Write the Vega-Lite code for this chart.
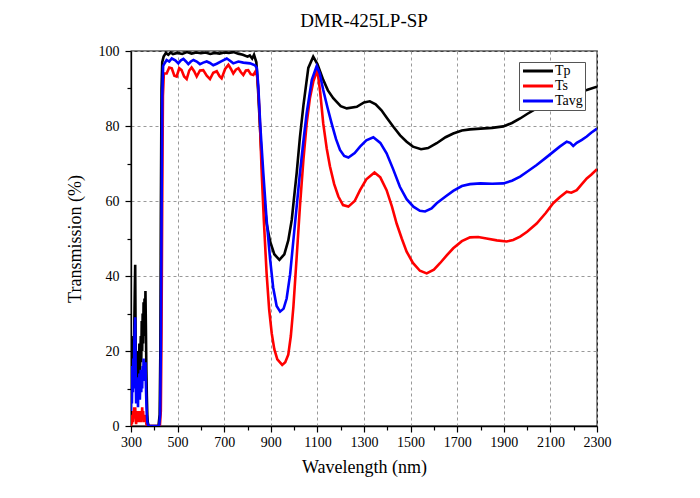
{
  "$schema": "https://vega.github.io/schema/vega-lite/v6.json",
  "width": 466,
  "height": 375,
  "autosize": {"type": "none"},
  "padding": {"left": 131, "top": 51, "right": 103, "bottom": 72},
  "title": {
    "text": "DMR-425LP-SP",
    "font": "Liberation Serif",
    "fontSize": 19,
    "fontWeight": "normal",
    "color": "black",
    "offset": 13
  },
  "data": {
    "values": [
      {"w": 300, "s": "Tp", "T": 8}, {"w": 302, "s": "Tp", "T": 24}, {"w": 304, "s": "Tp", "T": 12},
      {"w": 306, "s": "Tp", "T": 20}, {"w": 308, "s": "Tp", "T": 14}, {"w": 310, "s": "Tp", "T": 22},
      {"w": 312, "s": "Tp", "T": 16}, {"w": 314, "s": "Tp", "T": 26}, {"w": 316, "s": "Tp", "T": 35},
      {"w": 318, "s": "Tp", "T": 43}, {"w": 320, "s": "Tp", "T": 22}, {"w": 322, "s": "Tp", "T": 12},
      {"w": 324, "s": "Tp", "T": 20}, {"w": 326, "s": "Tp", "T": 14}, {"w": 328, "s": "Tp", "T": 18},
      {"w": 330, "s": "Tp", "T": 10}, {"w": 332, "s": "Tp", "T": 20}, {"w": 334, "s": "Tp", "T": 15},
      {"w": 336, "s": "Tp", "T": 22}, {"w": 338, "s": "Tp", "T": 13}, {"w": 340, "s": "Tp", "T": 19},
      {"w": 342, "s": "Tp", "T": 24}, {"w": 344, "s": "Tp", "T": 17}, {"w": 346, "s": "Tp", "T": 28},
      {"w": 348, "s": "Tp", "T": 20}, {"w": 350, "s": "Tp", "T": 30}, {"w": 352, "s": "Tp", "T": 22},
      {"w": 354, "s": "Tp", "T": 33}, {"w": 356, "s": "Tp", "T": 25}, {"w": 358, "s": "Tp", "T": 34},
      {"w": 360, "s": "Tp", "T": 24}, {"w": 362, "s": "Tp", "T": 36}, {"w": 364, "s": "Tp", "T": 26},
      {"w": 366, "s": "Tp", "T": 15}, {"w": 368, "s": "Tp", "T": 8}, {"w": 370, "s": "Tp", "T": 3},
      {"w": 372, "s": "Tp", "T": 1}, {"w": 376, "s": "Tp", "T": 0},
      {"w": 400, "s": "Tp", "T": 0}, {"w": 418, "s": "Tp", "T": 0}, {"w": 423, "s": "Tp", "T": 3},
      {"w": 426, "s": "Tp", "T": 20}, {"w": 428, "s": "Tp", "T": 55}, {"w": 431, "s": "Tp", "T": 90},
      {"w": 434, "s": "Tp", "T": 97}, {"w": 440, "s": "Tp", "T": 98.5}, {"w": 450, "s": "Tp", "T": 99.5},
      {"w": 460, "s": "Tp", "T": 99}, {"w": 470, "s": "Tp", "T": 99.6}, {"w": 480, "s": "Tp", "T": 99.2},
      {"w": 500, "s": "Tp", "T": 99.5}, {"w": 520, "s": "Tp", "T": 99.2}, {"w": 540, "s": "Tp", "T": 99.7},
      {"w": 560, "s": "Tp", "T": 99.3}, {"w": 580, "s": "Tp", "T": 99.6}, {"w": 600, "s": "Tp", "T": 99.4},
      {"w": 620, "s": "Tp", "T": 99.6}, {"w": 640, "s": "Tp", "T": 99.2}, {"w": 660, "s": "Tp", "T": 99.5},
      {"w": 680, "s": "Tp", "T": 99.3}, {"w": 700, "s": "Tp", "T": 99.6}, {"w": 720, "s": "Tp", "T": 99.5},
      {"w": 740, "s": "Tp", "T": 99.7}, {"w": 760, "s": "Tp", "T": 99.3}, {"w": 780, "s": "Tp", "T": 99},
      {"w": 800, "s": "Tp", "T": 98.5}, {"w": 810, "s": "Tp", "T": 98.8}, {"w": 820, "s": "Tp", "T": 98},
      {"w": 828, "s": "Tp", "T": 99}, {"w": 838, "s": "Tp", "T": 97}, {"w": 845, "s": "Tp", "T": 90},
      {"w": 855, "s": "Tp", "T": 78}, {"w": 868, "s": "Tp", "T": 63}, {"w": 882, "s": "Tp", "T": 54},
      {"w": 897, "s": "Tp", "T": 49.2}, {"w": 915, "s": "Tp", "T": 45.8}, {"w": 937, "s": "Tp", "T": 44.3},
      {"w": 958, "s": "Tp", "T": 45.8}, {"w": 975, "s": "Tp", "T": 49.5}, {"w": 990, "s": "Tp", "T": 55},
      {"w": 1000, "s": "Tp", "T": 61}, {"w": 1011, "s": "Tp", "T": 67.4}, {"w": 1025, "s": "Tp", "T": 77},
      {"w": 1040, "s": "Tp", "T": 85.5}, {"w": 1061, "s": "Tp", "T": 95.5}, {"w": 1082, "s": "Tp", "T": 98.5},
      {"w": 1100, "s": "Tp", "T": 96.5},
      {"w": 1125, "s": "Tp", "T": 92.3}, {"w": 1145, "s": "Tp", "T": 89.5}, {"w": 1168, "s": "Tp", "T": 87.4},
      {"w": 1200, "s": "Tp", "T": 85.3}, {"w": 1226, "s": "Tp", "T": 84.7}, {"w": 1269, "s": "Tp", "T": 85.1},
      {"w": 1300, "s": "Tp", "T": 86.3}, {"w": 1325, "s": "Tp", "T": 86.6}, {"w": 1350, "s": "Tp", "T": 85.8},
      {"w": 1375, "s": "Tp", "T": 84.2}, {"w": 1400, "s": "Tp", "T": 82}, {"w": 1426, "s": "Tp", "T": 79.8},
      {"w": 1455, "s": "Tp", "T": 77.5}, {"w": 1483, "s": "Tp", "T": 75.8}, {"w": 1510, "s": "Tp", "T": 74.5},
      {"w": 1545, "s": "Tp", "T": 73.8}, {"w": 1575, "s": "Tp", "T": 74.1}, {"w": 1612, "s": "Tp", "T": 75.4},
      {"w": 1650, "s": "Tp", "T": 77}, {"w": 1683, "s": "Tp", "T": 78}, {"w": 1720, "s": "Tp", "T": 78.8},
      {"w": 1755, "s": "Tp", "T": 79.1}, {"w": 1800, "s": "Tp", "T": 79.3}, {"w": 1850, "s": "Tp", "T": 79.5},
      {"w": 1898, "s": "Tp", "T": 79.9}, {"w": 1935, "s": "Tp", "T": 80.8}, {"w": 1970, "s": "Tp", "T": 82},
      {"w": 2000, "s": "Tp", "T": 83.2}, {"w": 2041, "s": "Tp", "T": 84.7}, {"w": 2080, "s": "Tp", "T": 86},
      {"w": 2112, "s": "Tp", "T": 86.9}, {"w": 2150, "s": "Tp", "T": 87.6}, {"w": 2184, "s": "Tp", "T": 88.3},
      {"w": 2220, "s": "Tp", "T": 89}, {"w": 2256, "s": "Tp", "T": 89.6}, {"w": 2300, "s": "Tp", "T": 90.5},

      {"w": 300, "s": "Ts", "T": 0}, {"w": 302, "s": "Ts", "T": 2}, {"w": 304, "s": "Ts", "T": 0.5},
      {"w": 306, "s": "Ts", "T": 3}, {"w": 308, "s": "Ts", "T": 1}, {"w": 310, "s": "Ts", "T": 4},
      {"w": 312, "s": "Ts", "T": 2}, {"w": 314, "s": "Ts", "T": 5}, {"w": 316, "s": "Ts", "T": 3},
      {"w": 318, "s": "Ts", "T": 5}, {"w": 320, "s": "Ts", "T": 2}, {"w": 322, "s": "Ts", "T": 0.5},
      {"w": 324, "s": "Ts", "T": 3}, {"w": 326, "s": "Ts", "T": 1}, {"w": 328, "s": "Ts", "T": 4},
      {"w": 330, "s": "Ts", "T": 1}, {"w": 332, "s": "Ts", "T": 3}, {"w": 334, "s": "Ts", "T": 1},
      {"w": 336, "s": "Ts", "T": 4}, {"w": 338, "s": "Ts", "T": 2}, {"w": 340, "s": "Ts", "T": 3},
      {"w": 342, "s": "Ts", "T": 1}, {"w": 344, "s": "Ts", "T": 4}, {"w": 346, "s": "Ts", "T": 2},
      {"w": 348, "s": "Ts", "T": 5}, {"w": 350, "s": "Ts", "T": 2}, {"w": 352, "s": "Ts", "T": 4},
      {"w": 354, "s": "Ts", "T": 1}, {"w": 356, "s": "Ts", "T": 3}, {"w": 358, "s": "Ts", "T": 1},
      {"w": 360, "s": "Ts", "T": 3}, {"w": 362, "s": "Ts", "T": 1}, {"w": 364, "s": "Ts", "T": 2},
      {"w": 366, "s": "Ts", "T": 0.5}, {"w": 370, "s": "Ts", "T": 0},
      {"w": 400, "s": "Ts", "T": 0}, {"w": 424, "s": "Ts", "T": 0},
      {"w": 428, "s": "Ts", "T": 4}, {"w": 431, "s": "Ts", "T": 25}, {"w": 434, "s": "Ts", "T": 60},
      {"w": 437, "s": "Ts", "T": 88}, {"w": 441, "s": "Ts", "T": 94}, {"w": 453, "s": "Ts", "T": 94},
      {"w": 464, "s": "Ts", "T": 95.6}, {"w": 475, "s": "Ts", "T": 95.4}, {"w": 486, "s": "Ts", "T": 93.4},
      {"w": 496, "s": "Ts", "T": 93.2}, {"w": 507, "s": "Ts", "T": 95.4}, {"w": 517, "s": "Ts", "T": 94.9},
      {"w": 528, "s": "Ts", "T": 93.2}, {"w": 539, "s": "Ts", "T": 92.5}, {"w": 550, "s": "Ts", "T": 94.8},
      {"w": 560, "s": "Ts", "T": 95.6}, {"w": 571, "s": "Ts", "T": 94.6}, {"w": 582, "s": "Ts", "T": 93.2},
      {"w": 596, "s": "Ts", "T": 94.8}, {"w": 610, "s": "Ts", "T": 94.9}, {"w": 625, "s": "Ts", "T": 93.4},
      {"w": 639, "s": "Ts", "T": 92.5}, {"w": 653, "s": "Ts", "T": 94.2}, {"w": 668, "s": "Ts", "T": 94.6},
      {"w": 680, "s": "Ts", "T": 93.3}, {"w": 689, "s": "Ts", "T": 92.7}, {"w": 704, "s": "Ts", "T": 95.2},
      {"w": 718, "s": "Ts", "T": 96.3}, {"w": 729, "s": "Ts", "T": 95.2}, {"w": 739, "s": "Ts", "T": 94},
      {"w": 750, "s": "Ts", "T": 95}, {"w": 761, "s": "Ts", "T": 95.4}, {"w": 771, "s": "Ts", "T": 94.4},
      {"w": 782, "s": "Ts", "T": 93.6}, {"w": 793, "s": "Ts", "T": 94.8}, {"w": 803, "s": "Ts", "T": 94.9},
      {"w": 814, "s": "Ts", "T": 93.8}, {"w": 825, "s": "Ts", "T": 93.6}, {"w": 834, "s": "Ts", "T": 94.5},
      {"w": 841, "s": "Ts", "T": 93.5}, {"w": 846, "s": "Ts", "T": 90}, {"w": 852, "s": "Ts", "T": 83},
      {"w": 861, "s": "Ts", "T": 67.4}, {"w": 870, "s": "Ts", "T": 55}, {"w": 882, "s": "Ts", "T": 40.7},
      {"w": 893, "s": "Ts", "T": 31}, {"w": 904, "s": "Ts", "T": 24.7}, {"w": 915, "s": "Ts", "T": 20.5},
      {"w": 928, "s": "Ts", "T": 17.8}, {"w": 949, "s": "Ts", "T": 16.3}, {"w": 962, "s": "Ts", "T": 17},
      {"w": 975, "s": "Ts", "T": 19}, {"w": 986, "s": "Ts", "T": 24}, {"w": 997, "s": "Ts", "T": 31.8},
      {"w": 1011, "s": "Ts", "T": 45}, {"w": 1025, "s": "Ts", "T": 58.5}, {"w": 1040, "s": "Ts", "T": 71},
      {"w": 1054, "s": "Ts", "T": 80.7}, {"w": 1068, "s": "Ts", "T": 87.5}, {"w": 1083, "s": "Ts", "T": 92},
      {"w": 1100, "s": "Ts", "T": 94.9}, {"w": 1112, "s": "Ts", "T": 89}, {"w": 1125, "s": "Ts", "T": 80.7},
      {"w": 1140, "s": "Ts", "T": 74}, {"w": 1154, "s": "Ts", "T": 69.2}, {"w": 1172, "s": "Ts", "T": 64.5},
      {"w": 1190, "s": "Ts", "T": 61.2}, {"w": 1210, "s": "Ts", "T": 58.9}, {"w": 1233, "s": "Ts", "T": 58.5},
      {"w": 1260, "s": "Ts", "T": 60}, {"w": 1283, "s": "Ts", "T": 62.9}, {"w": 1310, "s": "Ts", "T": 65.8},
      {"w": 1345, "s": "Ts", "T": 67.6}, {"w": 1370, "s": "Ts", "T": 66.3}, {"w": 1397, "s": "Ts", "T": 62.9},
      {"w": 1420, "s": "Ts", "T": 58.5}, {"w": 1440, "s": "Ts", "T": 54}, {"w": 1462, "s": "Ts", "T": 50},
      {"w": 1483, "s": "Ts", "T": 46.5}, {"w": 1510, "s": "Ts", "T": 43.5}, {"w": 1540, "s": "Ts", "T": 41.4},
      {"w": 1569, "s": "Ts", "T": 40.7}, {"w": 1600, "s": "Ts", "T": 41.7}, {"w": 1626, "s": "Ts", "T": 43.4},
      {"w": 1655, "s": "Ts", "T": 45.5}, {"w": 1683, "s": "Ts", "T": 47.4}, {"w": 1720, "s": "Ts", "T": 49.3},
      {"w": 1755, "s": "Ts", "T": 50.3}, {"w": 1790, "s": "Ts", "T": 50.4}, {"w": 1826, "s": "Ts", "T": 50},
      {"w": 1870, "s": "Ts", "T": 49.5}, {"w": 1912, "s": "Ts", "T": 49.2}, {"w": 1940, "s": "Ts", "T": 49.6},
      {"w": 1970, "s": "Ts", "T": 50.5}, {"w": 2000, "s": "Ts", "T": 51.8}, {"w": 2041, "s": "Ts", "T": 54},
      {"w": 2080, "s": "Ts", "T": 56.8}, {"w": 2112, "s": "Ts", "T": 59.4}, {"w": 2140, "s": "Ts", "T": 61},
      {"w": 2170, "s": "Ts", "T": 62.5}, {"w": 2190, "s": "Ts", "T": 62.2}, {"w": 2213, "s": "Ts", "T": 62.9},
      {"w": 2235, "s": "Ts", "T": 64.5}, {"w": 2256, "s": "Ts", "T": 66}, {"w": 2275, "s": "Ts", "T": 67},
      {"w": 2300, "s": "Ts", "T": 68.5},

      {"w": 300, "s": "Tavg", "T": 4}, {"w": 302, "s": "Tavg", "T": 16}, {"w": 304, "s": "Tavg", "T": 6},
      {"w": 306, "s": "Tavg", "T": 14}, {"w": 308, "s": "Tavg", "T": 9}, {"w": 310, "s": "Tavg", "T": 18},
      {"w": 312, "s": "Tavg", "T": 10}, {"w": 314, "s": "Tavg", "T": 22}, {"w": 316, "s": "Tavg", "T": 26},
      {"w": 318, "s": "Tavg", "T": 29}, {"w": 320, "s": "Tavg", "T": 15}, {"w": 322, "s": "Tavg", "T": 6},
      {"w": 324, "s": "Tavg", "T": 13}, {"w": 326, "s": "Tavg", "T": 7}, {"w": 328, "s": "Tavg", "T": 12},
      {"w": 330, "s": "Tavg", "T": 5}, {"w": 332, "s": "Tavg", "T": 12}, {"w": 334, "s": "Tavg", "T": 8},
      {"w": 336, "s": "Tavg", "T": 14}, {"w": 338, "s": "Tavg", "T": 7}, {"w": 340, "s": "Tavg", "T": 12},
      {"w": 342, "s": "Tavg", "T": 15}, {"w": 344, "s": "Tavg", "T": 9}, {"w": 346, "s": "Tavg", "T": 14},
      {"w": 348, "s": "Tavg", "T": 10}, {"w": 350, "s": "Tavg", "T": 16}, {"w": 352, "s": "Tavg", "T": 12},
      {"w": 354, "s": "Tavg", "T": 18}, {"w": 356, "s": "Tavg", "T": 13}, {"w": 358, "s": "Tavg", "T": 17},
      {"w": 360, "s": "Tavg", "T": 12}, {"w": 362, "s": "Tavg", "T": 17}, {"w": 364, "s": "Tavg", "T": 11},
      {"w": 366, "s": "Tavg", "T": 6}, {"w": 368, "s": "Tavg", "T": 3}, {"w": 370, "s": "Tavg", "T": 1},
      {"w": 374, "s": "Tavg", "T": 0}, {"w": 400, "s": "Tavg", "T": 0},
      {"w": 421, "s": "Tavg", "T": 0}, {"w": 425, "s": "Tavg", "T": 3}, {"w": 428, "s": "Tavg", "T": 20},
      {"w": 431, "s": "Tavg", "T": 55}, {"w": 434, "s": "Tavg", "T": 88}, {"w": 438, "s": "Tavg", "T": 96},
      {"w": 445, "s": "Tavg", "T": 96.8}, {"w": 453, "s": "Tavg", "T": 97.6}, {"w": 464, "s": "Tavg", "T": 97.2},
      {"w": 475, "s": "Tavg", "T": 98}, {"w": 490, "s": "Tavg", "T": 97.5}, {"w": 503, "s": "Tavg", "T": 96.7},
      {"w": 514, "s": "Tavg", "T": 97.5}, {"w": 525, "s": "Tavg", "T": 97.9}, {"w": 536, "s": "Tavg", "T": 97.2},
      {"w": 546, "s": "Tavg", "T": 96.5}, {"w": 557, "s": "Tavg", "T": 97.2}, {"w": 568, "s": "Tavg", "T": 97.6},
      {"w": 582, "s": "Tavg", "T": 97.2}, {"w": 596, "s": "Tavg", "T": 96.5}, {"w": 610, "s": "Tavg", "T": 96.9},
      {"w": 625, "s": "Tavg", "T": 97.2}, {"w": 639, "s": "Tavg", "T": 96.8}, {"w": 653, "s": "Tavg", "T": 96.2},
      {"w": 668, "s": "Tavg", "T": 96.6}, {"w": 689, "s": "Tavg", "T": 97.3}, {"w": 711, "s": "Tavg", "T": 98},
      {"w": 725, "s": "Tavg", "T": 97.4}, {"w": 739, "s": "Tavg", "T": 96.7}, {"w": 761, "s": "Tavg", "T": 97.2},
      {"w": 782, "s": "Tavg", "T": 96.9}, {"w": 811, "s": "Tavg", "T": 96.7}, {"w": 832, "s": "Tavg", "T": 96.2},
      {"w": 840, "s": "Tavg", "T": 95.5}, {"w": 846, "s": "Tavg", "T": 91}, {"w": 855, "s": "Tavg", "T": 80},
      {"w": 868, "s": "Tavg", "T": 67.4}, {"w": 882, "s": "Tavg", "T": 55}, {"w": 897, "s": "Tavg", "T": 44.5},
      {"w": 910, "s": "Tavg", "T": 37}, {"w": 925, "s": "Tavg", "T": 32}, {"w": 940, "s": "Tavg", "T": 30.5},
      {"w": 955, "s": "Tavg", "T": 31.3}, {"w": 968, "s": "Tavg", "T": 34}, {"w": 983, "s": "Tavg", "T": 40.5},
      {"w": 997, "s": "Tavg", "T": 49.6}, {"w": 1011, "s": "Tavg", "T": 58.5}, {"w": 1025, "s": "Tavg", "T": 67.4},
      {"w": 1040, "s": "Tavg", "T": 76}, {"w": 1054, "s": "Tavg", "T": 83.4}, {"w": 1076, "s": "Tavg", "T": 92.3},
      {"w": 1097, "s": "Tavg", "T": 96}, {"w": 1110, "s": "Tavg", "T": 94}, {"w": 1125, "s": "Tavg", "T": 89.6},
      {"w": 1143, "s": "Tavg", "T": 85}, {"w": 1161, "s": "Tavg", "T": 80.7}, {"w": 1180, "s": "Tavg", "T": 76.5},
      {"w": 1197, "s": "Tavg", "T": 73.6}, {"w": 1215, "s": "Tavg", "T": 72}, {"w": 1233, "s": "Tavg", "T": 71.6},
      {"w": 1260, "s": "Tavg", "T": 72.8}, {"w": 1283, "s": "Tavg", "T": 74.5}, {"w": 1310, "s": "Tavg", "T": 76.2},
      {"w": 1340, "s": "Tavg", "T": 77}, {"w": 1370, "s": "Tavg", "T": 75.5}, {"w": 1397, "s": "Tavg", "T": 72.7},
      {"w": 1425, "s": "Tavg", "T": 68.5}, {"w": 1454, "s": "Tavg", "T": 63.8}, {"w": 1483, "s": "Tavg", "T": 60.5},
      {"w": 1512, "s": "Tavg", "T": 58.5}, {"w": 1540, "s": "Tavg", "T": 57.4}, {"w": 1562, "s": "Tavg", "T": 57.2},
      {"w": 1590, "s": "Tavg", "T": 58}, {"w": 1612, "s": "Tavg", "T": 59.4}, {"w": 1650, "s": "Tavg", "T": 61.2},
      {"w": 1683, "s": "Tavg", "T": 62.7}, {"w": 1720, "s": "Tavg", "T": 64}, {"w": 1755, "s": "Tavg", "T": 64.5},
      {"w": 1800, "s": "Tavg", "T": 64.7}, {"w": 1850, "s": "Tavg", "T": 64.6}, {"w": 1898, "s": "Tavg", "T": 64.7},
      {"w": 1935, "s": "Tavg", "T": 65.4}, {"w": 1970, "s": "Tavg", "T": 66.5}, {"w": 2000, "s": "Tavg", "T": 67.8},
      {"w": 2041, "s": "Tavg", "T": 69.6}, {"w": 2080, "s": "Tavg", "T": 71.5}, {"w": 2112, "s": "Tavg", "T": 73.1},
      {"w": 2140, "s": "Tavg", "T": 74.5}, {"w": 2170, "s": "Tavg", "T": 75.8}, {"w": 2185, "s": "Tavg", "T": 75.5},
      {"w": 2198, "s": "Tavg", "T": 74.7}, {"w": 2213, "s": "Tavg", "T": 75.5}, {"w": 2235, "s": "Tavg", "T": 76.3},
      {"w": 2256, "s": "Tavg", "T": 77.2}, {"w": 2275, "s": "Tavg", "T": 78.2}, {"w": 2300, "s": "Tavg", "T": 79.3}
    ]
  },
  "mark": {"type": "line", "strokeWidth": 2.6, "clip": true},
  "encoding": {
    "x": {
      "field": "w",
      "type": "quantitative",
      "title": "Wavelength (nm)",
      "scale": {"domain": [300, 2300], "nice": false, "zero": false},
      "axis": {
        "values": [300, 400, 500, 600, 700, 800, 900, 1000, 1100, 1200, 1300, 1400, 1500, 1600, 1700, 1800, 1900, 2000, 2100, 2200, 2300],
        "labelExpr": "datum.value % 200 == 100 ? datum.label : ''",
        "format": "d",
        "labelFlush": false,
        "labelOverlap": false,
        "tickSize": {"condition": {"test": "datum.value % 200 == 100", "value": 6}, "value": 4},
        "gridOpacity": {"condition": {"test": "datum.value % 200 == 100", "value": 1}, "value": 0},
        "labelPadding": 3,
        "titlePadding": 9
      }
    },
    "y": {
      "field": "T",
      "type": "quantitative",
      "title": "Transmission (%)",
      "scale": {"domain": [0, 100], "nice": false},
      "axis": {
        "values": [0, 10, 20, 30, 40, 50, 60, 70, 80, 90, 100],
        "labelExpr": "datum.value % 20 == 0 ? datum.label : ''",
        "labelFlush": false,
        "labelOverlap": false,
        "tickSize": {"condition": {"test": "datum.value % 20 == 0", "value": 6}, "value": 4},
        "gridOpacity": {"condition": {"test": "datum.value % 20 == 0", "value": 1}, "value": 0},
        "labelPadding": 6,
        "titlePadding": 14
      }
    },
    "color": {
      "field": "s",
      "type": "nominal",
      "scale": {"domain": ["Tp", "Ts", "Tavg"], "range": ["#000000", "#ff0000", "#0000ff"]},
      "legend": {
        "title": null,
        "orient": "none",
        "legendX": 388,
        "legendY": 11,
        "symbolType": "M-1,0H5",
        "symbolSize": 100,
        "symbolStrokeWidth": 3,
        "labelFont": "Liberation Serif",
        "labelFontSize": 14,
        "labelColor": "black",
        "labelOffset": 20,
        "rowPadding": 1,
        "padding": 2,
        "strokeColor": "#555555",
        "fillColor": "white"
      }
    }
  },
  "config": {
    "font": "Liberation Serif",
    "view": {"stroke": "black", "strokeWidth": 1.3},
    "axis": {
      "domainColor": "black",
      "domainWidth": 1.3,
      "tickColor": "black",
      "tickWidth": 1.2,
      "labelFont": "Liberation Serif",
      "labelFontSize": 14,
      "labelColor": "black",
      "titleFont": "Liberation Serif",
      "titleFontSize": 18,
      "titleFontWeight": "normal",
      "titleColor": "black",
      "gridColor": "#999999",
      "gridDash": [3, 3],
      "gridWidth": 1
    }
  }
}
